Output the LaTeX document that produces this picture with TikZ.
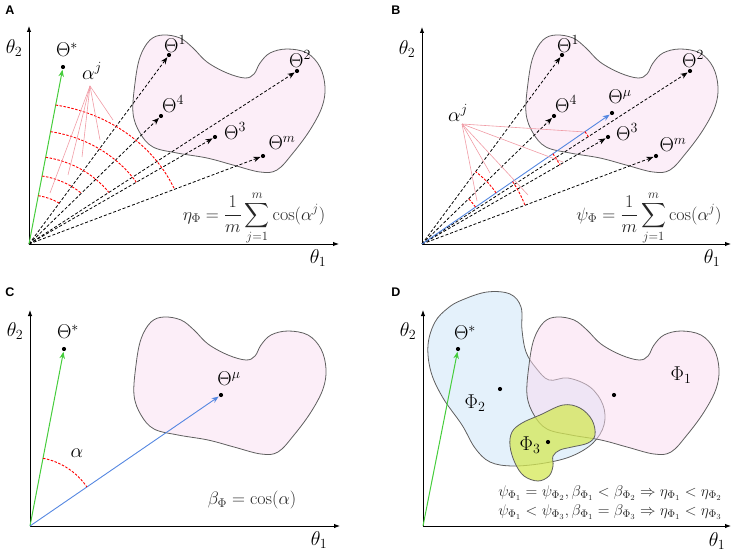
\RequirePackage{fix-cm}
\documentclass[tikz,border=0pt]{standalone}
\usepackage{exscale}
\usepackage{fontspec}
\newfontfamily\labfont{Liberation Sans}
\usetikzlibrary{arrows.meta,calc}
\definecolor{gline}{RGB}{70,205,60}
\definecolor{bline}{RGB}{85,135,225}
\definecolor{pinkl}{RGB}{240,155,165}
\definecolor{blobpink}{RGB}{252,238,248}
\definecolor{pinkbase}{RGB}{250,218,240}
\definecolor{blobblue}{RGB}{228,241,251}
\definecolor{blobyel}{RGB}{212,232,85}
\definecolor{outl}{RGB}{95,95,95}
\def\blobA{plot[smooth cycle, tension=0.6] coordinates {(163,35) (180,38) (193,48) (207,62) (227,73) (245,78) (254,74) (260,63) (270,53) (287,49) (307,53) (320,67) (325,87) (322,107) (310,130) (293,153) (277,170) (260,172) (233,165) (207,158) (177,153) (153,147) (140,133) (133,113) (135,83) (140,57) (150,40)}}
\begin{document}
\begin{tikzpicture}[x=1pt,y=-1pt,
  lab/.style={font=\fontsize{20}{24}\selectfont, inner sep=0pt},
  frm/.style={font=\fontsize{18}{22}\selectfont, inner sep=0pt, text=black!85},
  frmd/.style={font=\fontsize{15.5}{18}\selectfont, inner sep=0pt, text=black!85},
  panel/.style={font=\labfont\bfseries\fontsize{12.5}{14}\selectfont, inner sep=0pt},
  axis/.style={-{Latex[length=6pt,width=4.5pt]}, line width=0.9pt},
  vec/.style={dash pattern=on 3pt off 2pt, line width=0.8pt, -{Stealth[length=7pt,width=5.5pt]}, shorten >=0.5pt},
  gvec/.style={gline, line width=1pt, -{Stealth[length=7pt,width=5.5pt]}, shorten >=0.5pt},
  bvec/.style={bline, line width=0.9pt, -{Stealth[length=7pt,width=5.5pt]}, shorten >=0.5pt},
  dotn/.style={circle, fill, inner sep=0pt, minimum size=4.2pt},
  blobst/.style={draw=outl, line width=0.8pt, fill=blobpink},
  arcst/.style={red, dash pattern=on 2.5pt off 1.5pt, line width=0.9pt},
  pinkst/.style={pinkl, line width=0.6pt}]
\useasboundingbox (0,0) rectangle (738,556);

% ================= Panel A =================
\node[panel] (labA) at (10,10) {A};
\path[blobst] \blobA;
\coordinate (OA) at (29,244);
\coordinate (yA) at (29,26);
\coordinate (xA) at (339,244);
\draw[axis] (OA) -- (yA);
\draw[axis] (OA) -- (xA);
\node[lab] (t2A) at (14,48) {$\theta_2$};
\node[lab] (t1A) at (318,258) {$\theta_1$};
\node[dotn] (SA) at (63,67) {};
\node[dotn] (A1) at (169,55) {};
\node[dotn] (A2) at (297,71) {};
\node[dotn] (A4) at (161,116) {};
\node[dotn] (A3) at (215,137) {};
\node[dotn] (Am) at (263,156) {};
\node[lab] (lSA) at (67,50) {$\Theta^*$};
\node[lab] (lA1) at (175,44) {$\Theta^1$};
\node[lab] (lA2) at (300,59) {$\Theta^2$};
\node[lab] (lA4) at (173,104) {$\Theta^4$};
\node[lab] (lA3) at (235,131) {$\Theta^3$};
\node[lab] (lAm) at (282,143) {$\Theta^m$};
\foreach \n in {A1,A2,A3,A4,Am} \draw[vec] (OA) -- (\n);
\draw[gvec] (OA) -- (SA);
\foreach \rx/\ry/\e in {157.9/141/22.8, 127.7/114/32.8, 98.6/88/35.9, 77.3/69/47.4, 54.9/49/56.5}
  \draw[arcst] ($(OA)+(-80.3:\rx\space and \ry)$) arc[start angle=-80.3, end angle=-\e, x radius=\rx, y radius=\ry];
\node[lab] (ajA) at (92,71) {$\alpha^j$};
\coordinate (pA) at (90,86);
\coordinate (pA1) at (113,120);
\coordinate (pA2) at (100,140);
\coordinate (pA3) at (82,157);
\coordinate (pA4) at (68,175);
\coordinate (pA5) at (50,193);
\foreach \n in {pA1,pA2,pA3,pA4,pA5} \draw[pinkst] (pA) -- (\n);
\node[frm] (fA) at (254,218) {$\eta_\Phi=\displaystyle\frac{1}{m}\sum_{j=1}^{m}\cos(\alpha^j)$};

% ================= Panel B =================
\node[panel] (labB) at (396,10) {B};
\path[blobst, shift={(393,0)}] \blobA;
\coordinate (OB) at (422,244);
\coordinate (yB) at (422,27);
\coordinate (xB) at (731,244);
\draw[axis] (OB) -- (yB);
\draw[axis] (OB) -- (xB);
\node[lab] (t2B) at (407,49) {$\theta_2$};
\node[lab] (t1B) at (712,258) {$\theta_1$};
\node[dotn] (B1) at (562,55) {};
\node[dotn] (B2) at (690,71) {};
\node[dotn] (B4) at (554,116) {};
\node[dotn] (B3) at (608,137) {};
\node[dotn] (Bm) at (656,156) {};
\node[dotn] (Bmu) at (612,113) {};
\node[lab] (lB1) at (568,44) {$\Theta^1$};
\node[lab] (lB2) at (693,59) {$\Theta^2$};
\node[lab] (lB4) at (566,104) {$\Theta^4$};
\node[lab] (lB3) at (627,132) {$\Theta^3$};
\node[lab] (lBm) at (673,145) {$\Theta^m$};
\node[lab] (lBmu) at (620,97) {$\Theta^\mu$};
\foreach \n in {B1,B2,B3,B4,Bm} \draw[vec] (OB) -- (\n);
\draw[bvec] (OB) -- (Bmu);
\foreach \r/\e in {198/32.8, 159/29.7, 110/20.5, 90/53.5, 65/43.9}
  \draw[arcst] ($(OB)+(-34.6:\r)$) arc[start angle=-34.6, end angle=-\e, radius=\r];
\node[lab] (ajB) at (458,113) {$\alpha^j$};
\coordinate (pB) at (462,124);
\coordinate (pB1) at (585,132);
\coordinate (pB2) at (563,162);
\coordinate (pB3) at (528,195);
\coordinate (pB4) at (490,173);
\coordinate (pB5) at (477,201);
\foreach \n in {pB1,pB2,pB3,pB4,pB5} \draw[pinkst] (pB) -- (\n);
\node[frm] (fB) at (649,218) {$\psi_\Phi=\displaystyle\frac{1}{m}\sum_{j=1}^{m}\cos(\alpha^j)$};

% ================= Panel C =================
\node[panel] (labC) at (10,292) {C};
\path[blobst, shift={(1,282)}] \blobA;
\coordinate (OC) at (30,526);
\coordinate (yC) at (30,310);
\coordinate (xC) at (340,526);
\draw[axis] (OC) -- (yC);
\draw[axis] (OC) -- (xC);
\node[lab] (t2C) at (15,331) {$\theta_2$};
\node[lab] (t1C) at (319,540) {$\theta_1$};
\node[dotn] (SC) at (64,349) {};
\node[dotn] (Cmu) at (221,395) {};
\node[lab] (lSC) at (68,332) {$\Theta^*$};
\node[lab] (lCmu) at (229,379) {$\Theta^\mu$};
\draw[gvec] (OC) -- (SC);
\draw[bvec] (OC) -- (Cmu);
\draw[arcst] ($(OC)+(-79.1:69)$) arc[start angle=-79.1, end angle=-34.5, radius=69];
\node[lab] (alC) at (77,453) {$\alpha$};
\node[frm] (fC) at (252,500) {$\beta_\Phi=\cos(\alpha)$};

% ================= Panel D =================
\node[panel] (labD) at (396,292) {D};
\coordinate (OD) at (423,526);
\coordinate (yD) at (423,310);
\coordinate (xD) at (731,526);
\path[draw=outl, line width=0.8pt, fill=blobblue] plot[smooth cycle, tension=0.6] coordinates {(462,300) (487,292) (510,294) (521,307) (522,330) (526,352) (536,368) (549,380) (568,378) (590,387) (603,405) (604,425) (593,443) (572,456) (545,463) (513,466) (490,462) (475,448) (462,425) (443,398) (431,372) (428,345) (435,322) (448,308)};
\path[draw=outl, line width=0.8pt, fill=pinkbase, fill opacity=0.5, shift={(394,282)}] \blobA;
\path[draw=outl, line width=0.8pt, fill=blobyel, fill opacity=0.75] plot[smooth cycle, tension=0.6] coordinates {(512,432) (522,423) (540,415) (563,405) (580,408) (592,420) (595,435) (588,443) (572,447) (560,450) (553,456) (553,466) (549,476) (538,481) (524,476) (515,463) (510,446)};
\draw[axis] (OD) -- (yD);
\draw[axis] (OD) -- (xD);
\node[lab] (t2D) at (408,331) {$\theta_2$};
\node[lab] (t1D) at (717,541) {$\theta_1$};
\node[dotn] (SD) at (458,349) {};
\node[lab] (lSD) at (465,333) {$\Theta^*$};
\draw[gvec] (OD) -- (SD);
\node[dotn] (P1) at (614,395) {};
\node[dotn] (P2) at (500,389) {};
\node[dotn] (P3) at (548,442) {};
\node[lab] (lP1) at (681,375) {$\Phi_1$};
\node[lab] (lP2) at (475,403) {$\Phi_2$};
\node[lab] (lP3) at (530,445) {$\Phi_3$};
\node[frmd] (fD1) at (610,493) {$\psi_{\Phi_1}=\psi_{\Phi_2},\beta_{\Phi_1}<\beta_{\Phi_2}\Rightarrow\eta_{\Phi_1}<\eta_{\Phi_2}$};
\node[frmd] (fD2) at (610,512) {$\psi_{\Phi_1}<\psi_{\Phi_3},\beta_{\Phi_1}=\beta_{\Phi_3}\Rightarrow\eta_{\Phi_1}<\eta_{\Phi_3}$};
\end{tikzpicture}
\end{document}
